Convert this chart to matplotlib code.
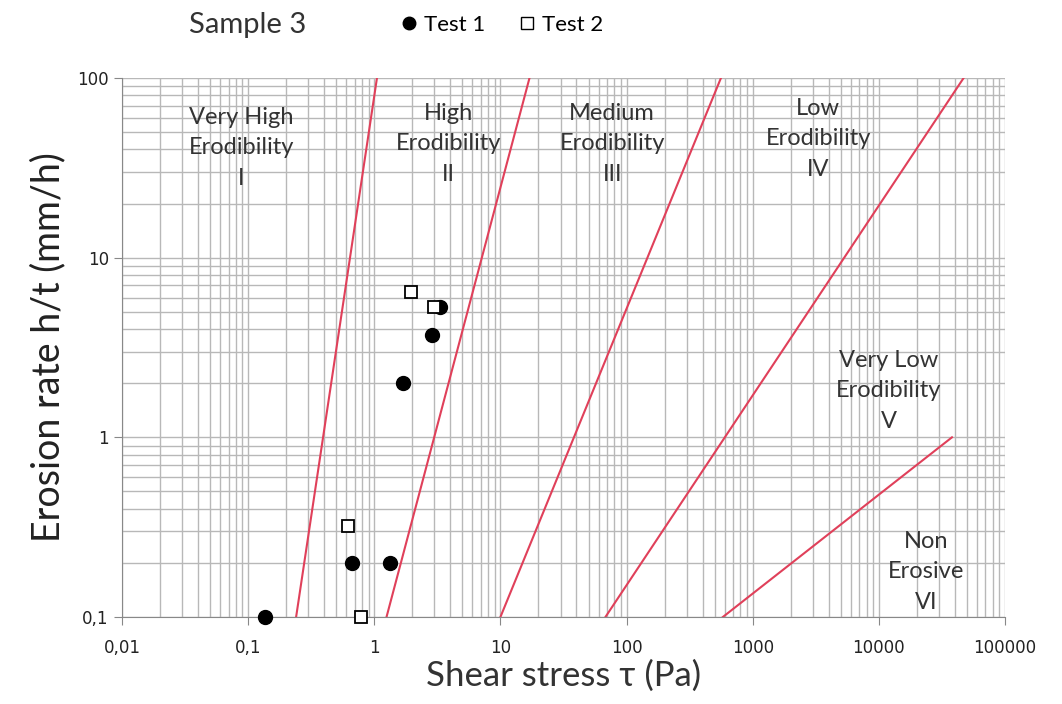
import numpy as np
import matplotlib.pyplot as plt
from matplotlib.lines import Line2D

# --- data ---
test1_x = [0.135, 0.66, 1.33, 1.7, 2.85, 3.3]
test1_y = [0.1, 0.2, 0.2, 2.0, 3.7, 5.3]

test2_x = [0.62, 0.78, 1.95, 3.0]
test2_y = [0.32, 0.1, 6.4, 5.3]

# class boundary lines: (x start, y start), (x end, y end)
bound_x0 = [0.24, 1.25, 10.0, 68.0, 580.0]
bound_y0 = [0.1, 0.1, 0.1, 0.1, 0.1]
bound_x1 = [1.05, 17.0, 560.0, 47000.0, 38000.0]
bound_y1 = [100.0, 100.0, 100.0, 100.0, 1.0]

zone_labels = ["Very High\nErodibility\nI", "High\nErodibility\nII",
               "Medium\nErodibility\nIII", "Low\nErodibility\nIV",
               "Very Low\nErodibility\nV", "Non\nErosive\nVI"]
zone_x = [0.088, 3.9, 77.0, 3300.0, 12000.0, 23600.0]
zone_y = [40.8, 43.0, 43.0, 46.0, 1.82, 0.178]

xticks = [0.01, 0.1, 1, 10, 100, 1000, 10000, 100000]
xtick_labels = ["0,01", "0,1", "1", "10", "100", "1000", "10000", "100000"]
yticks = [0.1, 1, 10, 100]
ytick_labels = ["0,1", "1", "10", "100"]

# --- figure ---
fig = plt.figure(figsize=(10.62, 7.04), dpi=100)
ax = fig.add_axes([0.1149, 0.1236, 0.8314, 0.7656])

ax.set_xscale("log")
ax.set_yscale("log")
ax.set_xlim(0.01, 100000)
ax.set_ylim(0.1, 100)

ax.grid(True, which="both", color="#b8b8b8", linewidth=1.0)
ax.set_axisbelow(True)

for x0, y0, x1, y1 in zip(bound_x0, bound_y0, bound_x1, bound_y1):
    ax.plot([x0, x1], [y0, y1], color="#e0405a", linewidth=1.5, zorder=2)

for lab, x, y in zip(zone_labels, zone_x, zone_y):
    ax.text(x, y, lab, ha="center", va="center", fontsize=17,
            family="Lato", color="#333333", linespacing=1.56, zorder=3)

ax.plot(test1_x, test1_y, "o", color="black", markersize=10,
        clip_on=False, zorder=5)
ax.plot(test2_x, test2_y, "s", markerfacecolor="white",
        markeredgecolor="black", markeredgewidth=1.3, markersize=9,
        clip_on=False, zorder=5)

ax.set_xticks(xticks)
ax.set_xticklabels(xtick_labels)
ax.set_yticks(yticks)
ax.set_yticklabels(ytick_labels)
ax.tick_params(axis="both", which="major", labelsize=12, length=6,
               color="#888888", labelcolor="#222222")
ax.tick_params(axis="x", which="major", pad=10)
ax.tick_params(axis="both", which="minor", length=0)

for side in ["top", "right"]:
    ax.spines[side].set_visible(False)
for side in ["left", "bottom"]:
    ax.spines[side].set_color("#888888")

ax.set_xlabel("Shear stress τ (Pa)", fontsize=25, family="Lato",
              color="#333333", labelpad=2)
ax.set_ylabel("Erosion rate h/t (mm/h)", fontsize=27, family="Lato",
              color="#222222", labelpad=8)

# title and legend above the plot
fig.text(0.2335, 0.9645, "Sample 3", fontsize=21, family="Lato",
         color="#333333", ha="center", va="center")
handles = [
    Line2D([], [], marker="o", linestyle="none", color="black", markersize=9),
    Line2D([], [], marker="s", linestyle="none", markerfacecolor="white",
           markeredgecolor="black", markersize=8),
]
fig.legend(handles, ["Test 1", "Test 2"], loc="center",
           bbox_to_anchor=(0.4735, 0.9645), ncol=2, frameon=False,
           prop={"family": "Lato", "size": 16}, handletextpad=0.35,
           columnspacing=1.6, handlelength=0.6, borderpad=0,
           borderaxespad=0)

plt.savefig("out.png", dpi=100)
